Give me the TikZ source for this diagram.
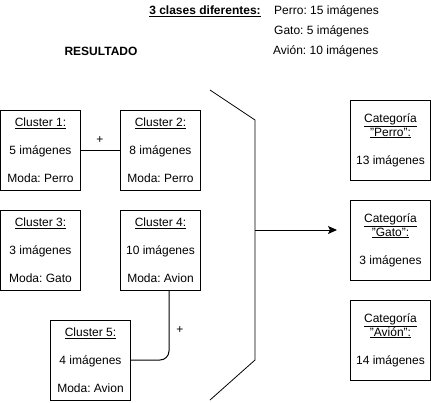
\documentclass[tikz,border=0pt]{standalone}
\usepackage{fontspec}
\setmainfont{Liberation Sans}
\usetikzlibrary{arrows.meta,calc}
\frenchspacing
\tikzset{
  every node/.style={font=\fontsize{12}{14}\selectfont, inner sep=0pt},
  box/.style={draw, line width=1pt, minimum width=80pt, minimum height=80pt, align=center},
  conn/.style={line width=1pt},
}
\begin{document}
\begin{tikzpicture}[x=1pt,y=-1pt]
\useasboundingbox (0,0) rectangle (431,402);
% header
\node (hdr) at (205,11) {\textbf{\underline{3 clases diferentes:}}};
\node[anchor=west] (tp) at (274,11) {Perro: 15 imágenes};
\node[anchor=west] (tg) at (274,31) {Gato: 5 imágenes};
\node[anchor=west] (ta) at (273,51) {Avión: 10 imágenes};
\node (res) at (101,51) {\textbf{RESULTADO}};
% clusters
\node[box] (c1) at (40.5,150) {\underline{Cluster 1:}\\[14pt]5 imágenes\\[14pt]Moda: Perro};
\node[box] (c2) at (160.5,150) {\underline{Cluster 2:}\\[14pt]8 imágenes\\[14pt]Moda: Perro};
\node[box] (c3) at (40.5,250) {\underline{Cluster 3:}\\[14pt]3 imágenes\\[14pt]Moda: Gato};
\node[box] (c4) at (160.5,250) {\underline{Cluster 4:}\\[14pt]10 imágenes\\[14pt]Moda: Avion};
\node[box] (c5) at (90.5,360) {\underline{Cluster 5:}\\[14pt]4 imágenes\\[14pt]Moda: Avion};
% categories
\node[box] (k1) at (390.5,140) {\underline{Categoría}\\\underline{"Perro":}\\[14pt]13 imágenes};
\node[box] (k2) at (390.5,240) {\underline{Categoría}\\\underline{"Gato":}\\[14pt]3 imágenes};
\node[box] (k3) at (390.5,340) {\underline{Categoría}\\\underline{"Avión":}\\[14pt]14 imágenes};
% connectors
\draw[conn] (c1.east) -- (c2.west);
\node (p1) at (100,140) {+};
\coordinate (c4b) at ($(c4.south)+(8.5,0)$);
\draw[conn, rounded corners=9pt] (c4b) -- (c4b |- c5.east) -- (c5.east);
\node (p2) at (180,330) {+};
% funnel
\coordinate (f1) at (210,90);
\coordinate (f2) at (255,120);
\coordinate (f3) at (255,360);
\coordinate (f4) at (210,400);
\draw[line width=0.8pt] (f1) -- (f2) -- (f3) -- (f4);
\coordinate (fa) at (255,230);
\coordinate (fb) at (337,230);
\draw[conn, -{Stealth[length=9pt,width=8pt,inset=2pt]}] (fa) -- (fb);
\end{tikzpicture}
\end{document}
